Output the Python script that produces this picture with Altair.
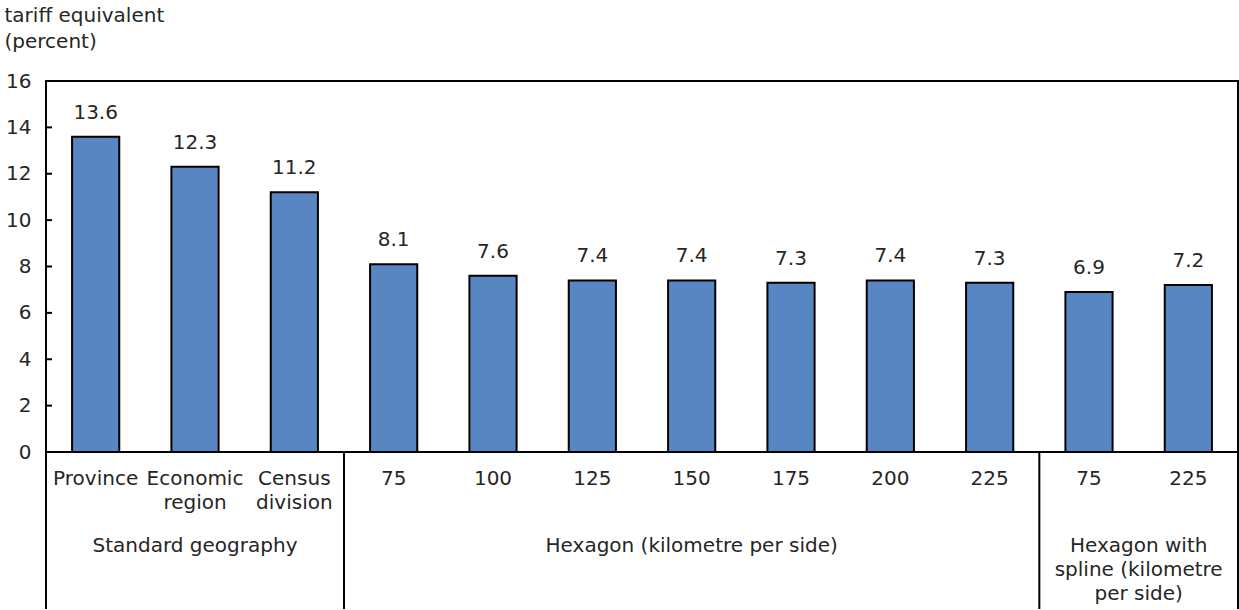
import altair as alt
import pandas as pd

ids = ["p", "er", "cd", "h75", "h100", "h125", "h150", "h175", "h200", "h225", "s75", "s225"]
labels = ["Province", "Economic\nregion", "Census\ndivision", "75", "100", "125", "150",
          "175", "200", "225", "75", "225"]
values = [13.6, 12.3, 11.2, 8.1, 7.6, 7.4, 7.4, 7.3, 7.4, 7.3, 6.9, 7.2]
value_text = ["13.6", "12.3", "11.2", "8.1", "7.6", "7.4", "7.4", "7.3", "7.4", "7.3", "6.9", "7.2"]

group_names = ["Standard geography", "Hexagon (kilometre per side)",
               "Hexagon with\nspline (kilometre\nper side)"]
group_start = [0, 3, 10]
group_end = [3, 10, 12]
separators = [0, 3, 10, 12]
y_ticks = [0, 2, 4, 6, 8, 10, 12, 14, 16]

W, H = 1192, 371
FONT = "DejaVu Sans"
FS = 20
TXT = "#262626"

df = pd.DataFrame({"id": ids, "label": labels, "value": values, "vtext": value_text})
gdf = pd.DataFrame({"name": group_names,
                    "mid": [(a + b) / 2 for a, b in zip(group_start, group_end)]})
sdf = pd.DataFrame({"pos": separators})
tdf = pd.DataFrame({"t": y_ticks})

xband = alt.X("id:N", sort=ids, axis=None,
              scale=alt.Scale(paddingInner=0.525, paddingOuter=0.2625))
yscale = alt.Scale(domain=[0, 16], nice=False)

bars = alt.Chart(df).mark_bar(color="#5886C2", stroke="black", strokeWidth=2).encode(
    x=xband,
    y=alt.Y("value:Q", scale=yscale,
            axis=alt.Axis(values=y_ticks, ticks=False, domain=False, grid=False,
                          labelFont=FONT, labelFontSize=FS, labelColor=TXT, labelPadding=15,
                          title=["tariff equivalent", "(percent)"], titleAngle=0,
                          titleAlign="left", titleBaseline="top", titleX=-42, titleY=-76,
                          titleFont=FONT, titleFontSize=FS, titleFontWeight="normal",
                          titleColor=TXT, titleLineHeight=26)),
)

vlabels = alt.Chart(df).mark_text(font=FONT, fontSize=FS, color=TXT, baseline="bottom", dy=-14).encode(
    x=xband, y=alt.Y("value:Q", scale=yscale), text="vtext:N")

clabels = alt.Chart(df).mark_text(font=FONT, fontSize=FS, color=TXT, baseline="middle",
                                  lineBreak="\n", lineHeight=24, align="center").encode(
    x=xband, y=alt.value(H + 27), text="label:N")

ticks = alt.Chart(tdf).mark_rule(color="black", strokeWidth=2).encode(
    y=alt.Y("t:Q", scale=yscale), x=alt.value(0), x2=alt.value(6))

qx = alt.Scale(domain=[0, 12], range=[0, W], nice=False, zero=False)

seps = alt.Chart(sdf).mark_rule(color="black", strokeWidth=2).encode(
    x=alt.X("pos:Q", scale=qx, axis=None), y=alt.value(H), y2=alt.value(H + 157))

glabels = alt.Chart(gdf).mark_text(font=FONT, fontSize=FS, color=TXT, baseline="middle",
                                   lineBreak="\n", lineHeight=24, align="center").encode(
    x=alt.X("mid:Q", scale=qx, axis=None), y=alt.value(H + 94), text="name:N")

chart = alt.layer(bars, vlabels, clabels, ticks, seps, glabels).resolve_scale(
    x="independent"
).properties(
    width=W, height=H,
    autosize=alt.AutoSizeParams(type="none"),
    padding={"left": 46, "top": 81, "right": 1, "bottom": 158},
    background="white",
).configure_view(stroke="black", strokeWidth=2)

chart.save("out.html", embed_options={"renderer": "svg", "actions": False})
